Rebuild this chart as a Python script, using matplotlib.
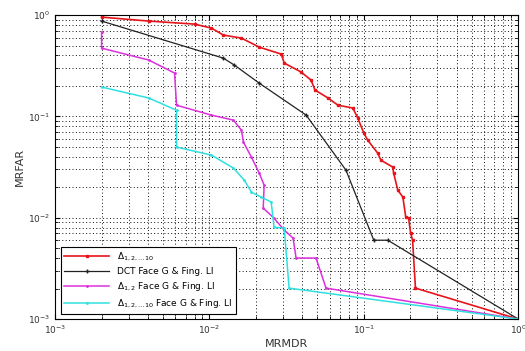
import numpy as np
import matplotlib
matplotlib.use("Agg")
import matplotlib.pyplot as plt

# MRMDR / MRFAR values
red_x = [0.002, 0.00404, 0.0080, 0.0103, 0.0123, 0.0161, 0.0210, 0.0292, 0.0305,
         0.0393, 0.0455, 0.0483, 0.0586, 0.0680, 0.0849, 0.0914, 0.100, 0.106,
         0.123, 0.129, 0.154, 0.156, 0.166, 0.179, 0.187, 0.195, 0.201, 0.207,
         0.216, 1.0]
red_y = [0.955, 0.873, 0.815, 0.744, 0.635, 0.593, 0.483, 0.412, 0.336,
         0.274, 0.228, 0.182, 0.152, 0.129, 0.121, 0.0962, 0.0684, 0.0583,
         0.0434, 0.0370, 0.0316, 0.0276, 0.0187, 0.0160, 0.0101, 0.0099, 0.00705,
         0.0060, 0.00202, 0.001]

dct_x = [0.002, 0.0123, 0.0145, 0.0210, 0.0423, 0.0766, 0.116, 0.143, 1.0]
dct_y = [0.873, 0.376, 0.321, 0.213, 0.103, 0.0295, 0.0060, 0.0060, 0.001]

d12_x = [0.002, 0.002, 0.00404, 0.00594, 0.00612, 0.0103, 0.0143, 0.0161, 0.0166,
         0.0187, 0.0210, 0.0226, 0.0223, 0.0262, 0.0305, 0.0348, 0.0364, 0.0490,
         0.0569, 1.0]
d12_y = [0.679, 0.472, 0.360, 0.268, 0.129, 0.103, 0.0919, 0.0732, 0.0557,
         0.0396, 0.0276, 0.0210, 0.01245, 0.0099, 0.00755, 0.0063, 0.0040, 0.0040,
         0.00202, 0.001]

d110_x = [0.002, 0.00404, 0.00612, 0.00612, 0.0103, 0.0143, 0.0168, 0.0187, 0.0216,
          0.0251, 0.0262, 0.0305, 0.0328, 1.0]
d110_y = [0.195, 0.152, 0.115, 0.0498, 0.0415, 0.0309, 0.0235, 0.0179, 0.0160,
          0.0143, 0.00807, 0.00789, 0.00202, 0.001]

labels = [r'$\Delta_{1,2,\ldots10}$',
          'DCT Face G & Fing. LI',
          r'$\Delta_{1,2}$ Face G & Fing. LI',
          r'$\Delta_{1,2,\ldots10}$ Face G & Fing. LI']

fig = plt.figure(figsize=(5.25, 3.51), dpi=100)
ax = fig.add_axes([0.105, 0.091, 0.882, 0.866])

ax.loglog(red_x, red_y, color='#e8141c', lw=1.2, marker='s', ms=2.0, label=labels[0])
ax.loglog(dct_x, dct_y, color='#222222', lw=0.9, marker='+', ms=3, label=labels[1])
ax.loglog(d12_x, d12_y, color='#dd30dd', lw=1.1, marker='.', ms=2, label=labels[2])
ax.loglog(d110_x, d110_y, color='#30e0e0', lw=1.1, marker='.', ms=2, label=labels[3])

ax.set_xlim(1e-3, 1)
ax.set_ylim(1e-3, 1)
ax.grid(True, which='both', color='#111111', lw=0.7, dashes=(1, 2.5))
ax.tick_params(which='both', direction='in', top=True, right=True, labelsize=6.5,
               labelcolor='#333333')
ax.set_xlabel('MRMDR', fontsize=8, color='#333333', labelpad=2)
ax.set_ylabel('MRFAR', fontsize=8, color='#333333', labelpad=2)

leg = ax.legend(loc='lower left', fontsize=6.5, fancybox=False, framealpha=1,
                edgecolor='black', handlelength=5, borderaxespad=0.6, labelspacing=0.45)
leg.get_frame().set_linewidth(0.8)

fig.savefig('out.png', dpi=100)
